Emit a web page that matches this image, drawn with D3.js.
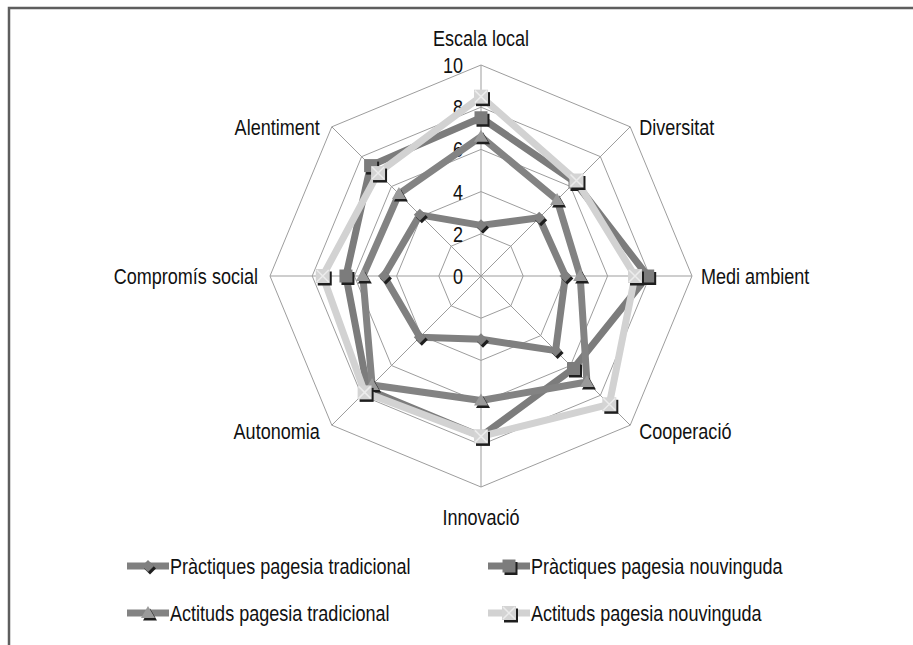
<!DOCTYPE html>
<html>
<head>
<meta charset="utf-8">
<script src="https://cdn.jsdelivr.net/npm/d3@7"></script>
<style>
  body { margin: 0; background: #fff; }
  text { font-family: "Liberation Sans Narrow", "Arial Narrow", "Liberation Sans", sans-serif; fill: #111; }
</style>
</head>
<body>
<div id="chart"></div>
<script>
const axes = ['Escala local', 'Diversitat', 'Medi ambient', 'Cooperació', 'Innovació', 'Autonomia', 'Compromís social', 'Alentiment'];
const seriesNames = ['Pràctiques pagesia tradicional', 'Pràctiques pagesia nouvinguda', 'Actituds pagesia tradicional', 'Actituds pagesia nouvinguda'];
const practTrad = [2.4, 3.9, 4.0, 5.0, 3.0, 4.1, 4.6, 4.1];
const practNou = [7.5, 6.3, 7.9, 6.2, 7.6, 7.6, 6.4, 7.4];
const actTrad = [6.6, 5.1, 4.7, 7.1, 5.9, 7.3, 5.6, 5.5];
const actNou = [8.5, 6.4, 7.3, 8.6, 7.6, 7.8, 7.5, 6.9];
const ticks = [0, 2, 4, 6, 8, 10];

const width = 913;
const height = 645;
const cx = 481;
const cy = 276;
const radius = 211;

// look of each series (Excel style greys)
const styles = [
  { line: '#808080', fill: '#808080', marker: 'diamond' },
  { line: '#7c7c7c', fill: '#7c7c7c', marker: 'square' },
  { line: '#838383', fill: '#9a9a9a', marker: 'triangle' },
  { line: '#d2d2d2', fill: '#d4d4d4', marker: 'cross' },
];

const svg = d3.select('#chart').append('svg')
  .attr('width', width)
  .attr('height', height);

svg.append('rect')
  .attr('width', width)
  .attr('height', height)
  .attr('fill', '#fff');

// only the top and left edge of the frame are in view
svg.append('path')
  .attr('d', `M9,${height} L9,8 L${width},8`)
  .attr('fill', 'none')
  .attr('stroke', '#5e5e5e')
  .attr('stroke-width', 2.5);

// no narrow font installed: squeeze the regular one like Arial Narrow
const squeeze = 0.82;
function place(sel, x, y) {
  sel.attr('x', 0).attr('y', 0)
    .attr('transform', `translate(${x},${y}) scale(${squeeze},1)`);
}

const r = d3.scaleLinear().domain([0, 10]).range([0, radius]);
const angle = d3.scalePoint().domain(axes).range([0, 2 * Math.PI * (axes.length - 1) / axes.length]);

const pt = (axis, v) => {
  const a = angle(axis);
  return [cx + r(v) * Math.sin(a), cy - r(v) * Math.cos(a)];
};

const grid = svg.append('g').attr('class', 'grid');

grid.selectAll('.ring')
  .data(ticks.filter(t => t > 0))
  .enter().append('polygon')
  .attr('class', 'ring')
  .attr('points', t => axes.map(a => pt(a, t).join(',')).join(' '))
  .attr('fill', 'none')
  .attr('stroke', '#9d9d9d')
  .attr('stroke-width', 1);

grid.selectAll('.spoke')
  .data(axes)
  .enter().append('line')
  .attr('class', 'spoke')
  .attr('x1', cx)
  .attr('y1', cy)
  .attr('x2', a => pt(a, 10)[0])
  .attr('y2', a => pt(a, 10)[1])
  .attr('stroke', '#9d9d9d')
  .attr('stroke-width', 1);

svg.selectAll('.ticklabel')
  .data(ticks)
  .enter().append('text')
  .attr('class', 'ticklabel')
  .attr('text-anchor', 'end')
  .style('font-size', '22px')
  .each(function(t) { place(d3.select(this), cx - 18, cy - r(t) + 8); })
  .text(t => t);

svg.selectAll('.axislabel')
  .data(axes)
  .enter().append('text')
  .attr('class', 'axislabel')
  .style('font-size', '22px')
  .each(function(a) {
    const [vx, vy] = pt(a, 10);
    const s = Math.sin(angle(a));
    const c = Math.cos(angle(a));
    const el = d3.select(this);
    if (Math.abs(s) < 0.01) {
      el.attr('text-anchor', 'middle');
      place(el, vx, c > 0 ? vy - 19 : vy + 38);
    } else {
      el.attr('text-anchor', s > 0 ? 'start' : 'end');
      place(el, vx + (s > 0 ? 9 : -12), vy + 8 + (c < -0.1 ? 6 : 0));
    }
  })
  .text(a => a);

function markerPath(type) {
  if (type === 'diamond') return 'M0,-6L6,0L0,6L-6,0Z';
  if (type === 'square') return 'M-6.5,-6.5H6.5V6.5H-6.5Z';
  if (type === 'triangle') return 'M0,-7L7,5H-7Z';
  return 'M-7,-7H7V7H-7Z';
}

function drawMarker(g, style, x, y) {
  const m = g.append('g').attr('transform', `translate(${x},${y})`);
  m.append('path')
    .attr('d', markerPath(style.marker))
    .attr('transform', 'translate(2,2.5)')
    .attr('fill', '#1e1e1e');
  m.append('path')
    .attr('d', markerPath(style.marker))
    .attr('fill', style.fill);
  if (style.marker === 'cross') {
    m.append('path')
      .attr('d', 'M-6,-6L6,6M6,-6L-6,6')
      .attr('stroke', '#ececec')
      .attr('stroke-width', 1.5);
  }
}

const seriesData = [practTrad, practNou, actTrad, actNou];
const line = d3.line().curve(d3.curveLinearClosed);

seriesData.forEach((vals, i) => {
  const pts = axes.map((a, j) => pt(a, vals[j]));
  const g = svg.append('g').attr('class', 'series');
  g.append('path')
    .attr('d', line(pts))
    .attr('fill', 'none')
    .attr('stroke', styles[i].line)
    .attr('stroke-width', 7)
    .attr('stroke-linejoin', 'round');
  pts.forEach(p => drawMarker(g, styles[i], p[0], p[1]));
});

// legend, two columns
const legendX = [127, 488];
const legendY = [566, 613];

seriesNames.forEach((name, i) => {
  const x = legendX[i % 2];
  const y = legendY[Math.floor(i / 2)];
  const g = svg.append('g').attr('class', 'legend');
  g.append('line')
    .attr('x1', x)
    .attr('x2', x + 42)
    .attr('y1', y)
    .attr('y2', y)
    .attr('stroke', styles[i].line)
    .attr('stroke-width', 7);
  drawMarker(g, styles[i], x + 21, y);
  place(g.append('text').style('font-size', '22px').text(name), x + 43, y + 8);
});
</script>
</body>
</html>
